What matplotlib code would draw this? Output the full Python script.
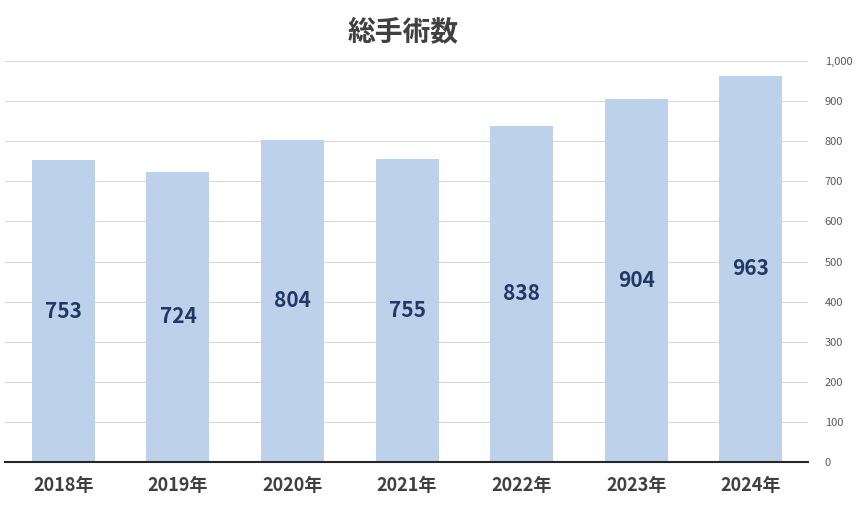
import matplotlib.pyplot as plt
from matplotlib.ticker import FuncFormatter

plt.rcParams['font.family'] = ['Noto Sans CJK JP', 'DejaVu Sans']

years = ['2018年', '2019年', '2020年', '2021年', '2022年', '2023年', '2024年']
counts = [753, 724, 804, 755, 838, 904, 963]

fig = plt.figure(figsize=(8.59, 5.19), dpi=100)
ax = fig.add_axes([5 / 859, 57 / 519, 803 / 859, 401 / 519])

x = range(len(years))
bars = ax.bar(x, counts, width=0.55, color='#BDD1EA', zorder=2)
for b, v in zip(bars, counts):
    ax.text(b.get_x() + b.get_width() / 2, v / 2, str(v), ha='center', va='center',
            fontsize=15, fontweight='bold', color='#203864', zorder=3)

ax.set_xlim(-0.51, 6.5)
ax.set_ylim(0, 1000)
ax.set_yticks(range(0, 1001, 100))
ax.yaxis.set_major_formatter(FuncFormatter(lambda v, p: f'{int(v):,}'))
ax.yaxis.tick_right()
ax.tick_params(axis='y', length=0, labelsize=8, labelcolor='#595959', pad=12)
ax.set_xticks(list(x))
ax.set_xticklabels(years)
ax.tick_params(axis='x', length=0, labelsize=13, labelcolor='#404040', pad=10)
for lab in ax.get_xticklabels():
    lab.set_fontweight('bold')
ax.grid(axis='y', color='#D9D9D9', linewidth=0.8, zorder=0)
for s in ['top', 'left', 'right']:
    ax.spines[s].set_visible(False)
ax.spines['bottom'].set_color('#262626')
ax.spines['bottom'].set_linewidth(1.5)

fig.text(403 / 859, 1 - 32 / 519, '総手術数', ha='center', va='center',
         fontsize=20, fontweight='bold', color='#404040')

fig.savefig('out.png', dpi=100)
